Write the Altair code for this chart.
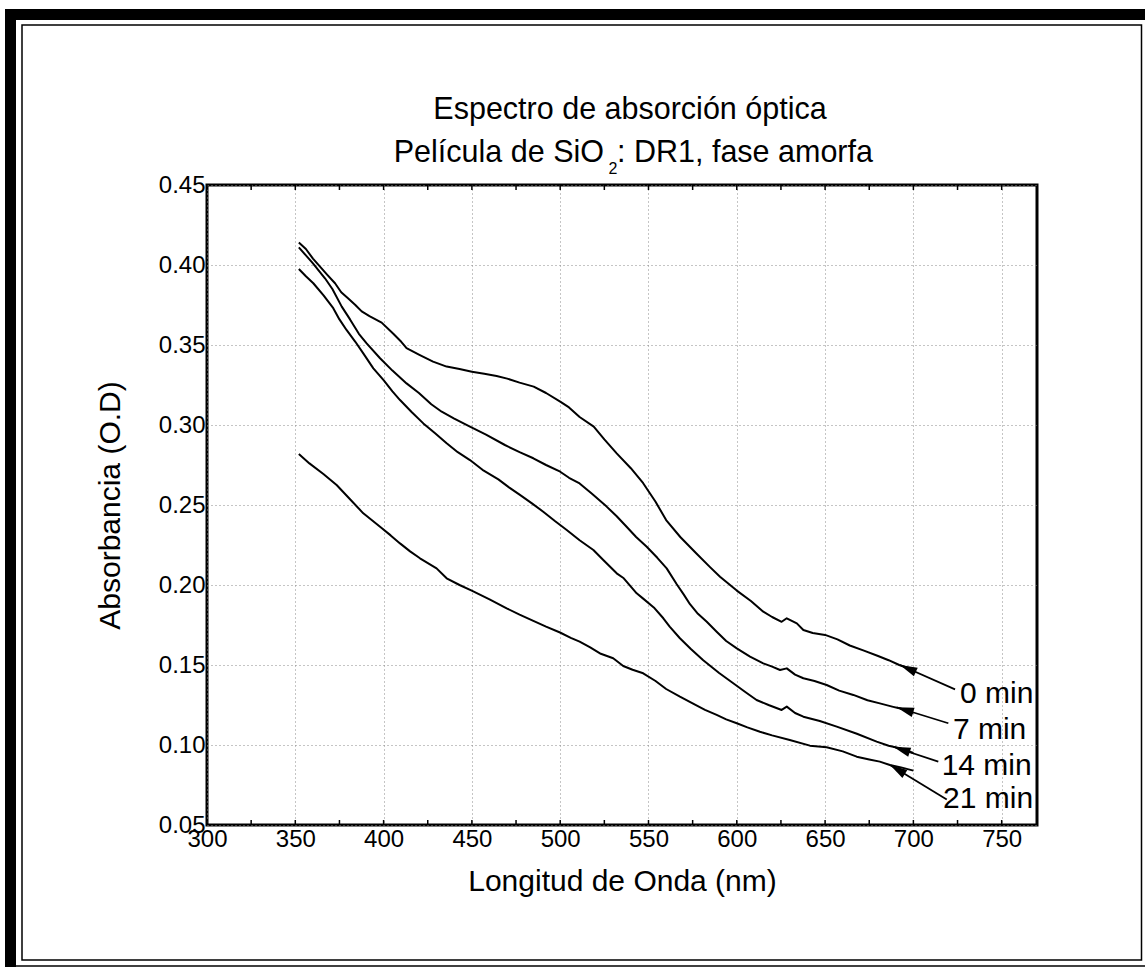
import math
import altair as alt
import pandas as pd

FONT = "Liberation Sans"

# ---------------- data ----------------
series_names = ["0 min", "7 min", "14 min", "21 min"]

nm_0 = [352, 356, 360, 364, 368, 372.5, 376, 380, 384, 387.6, 392, 398.9, 405.5, 410, 413,
        420, 428, 435.7, 443, 450, 457, 464, 470, 477, 485, 492, 500, 505, 511, 519, 525,
        532, 540, 547, 554, 560, 568, 577, 585, 590.5, 600, 608, 615, 620, 625.4, 628.3,
        634, 637.7, 643, 650, 657, 664, 672, 680, 686, 692, 700]
abs_0 = [0.414, 0.410, 0.404, 0.399, 0.394, 0.3886, 0.383, 0.379, 0.375, 0.371, 0.368, 0.364,
         0.357, 0.352, 0.348, 0.344, 0.3396, 0.3365, 0.335, 0.3333, 0.332, 0.3306, 0.329,
         0.3265, 0.324, 0.320, 0.3146, 0.311, 0.305, 0.299, 0.291, 0.2823, 0.273, 0.2636,
         0.252, 0.2406, 0.230, 0.2198, 0.211, 0.2052, 0.1965, 0.190, 0.1833, 0.180, 0.177,
         0.1792, 0.176, 0.1719, 0.170, 0.1688, 0.166, 0.1622, 0.159, 0.1556, 0.153, 0.150, 0.147]

nm_7 = [352, 356, 360, 366.8, 371, 376.3, 381, 386, 390.4, 398, 405, 413, 420, 427, 432.9,
        440, 448.9, 458, 468.7, 477, 484.8, 492, 500, 505, 511, 518, 526.3, 532, 537.6, 543,
        549, 555, 560.3, 566, 570, 573.5, 578, 583, 588.6, 594, 600, 607.5, 615, 620, 624.5,
        628.3, 633, 637.7, 644, 650.9, 658, 666, 674, 681, 688, 694.3, 700]
abs_7 = [0.411, 0.406, 0.401, 0.3917, 0.385, 0.374, 0.366, 0.357, 0.351, 0.3417, 0.334, 0.326,
         0.320, 0.313, 0.3083, 0.304, 0.299, 0.294, 0.2875, 0.283, 0.2792, 0.275, 0.2708,
         0.267, 0.2635, 0.257, 0.249, 0.243, 0.2364, 0.230, 0.2239, 0.217, 0.2104, 0.2005,
         0.194, 0.188, 0.182, 0.177, 0.1708, 0.165, 0.1604, 0.1552, 0.151, 0.149, 0.1469,
         0.1479, 0.144, 0.1417, 0.140, 0.1375, 0.134, 0.1313, 0.128, 0.126, 0.124, 0.1223, 0.120]

nm_14 = [352, 356, 360.2, 366, 371.5, 375, 379, 384, 388.5, 394.2, 400, 405, 409.3, 416, 422.5,
         429, 435.7, 442, 448.9, 456, 465, 471, 477.2, 484, 490.4, 497, 503.7, 511, 518.8,
         524.4, 532, 536, 543.3, 547, 553, 558.4, 562, 567.8, 574, 581, 590, 598, 605, 611.2,
         618, 625.4, 628.3, 633, 637.7, 647, 656.6, 668, 679.2, 686, 692.4, 700]
abs_14 = [0.3975, 0.393, 0.3886, 0.381, 0.373, 0.366, 0.3594, 0.352, 0.3448, 0.3354, 0.328,
          0.321, 0.3156, 0.308, 0.301, 0.295, 0.2886, 0.283, 0.2781, 0.272, 0.266, 0.261,
          0.2563, 0.251, 0.2458, 0.240, 0.2344, 0.228, 0.2219, 0.2156, 0.2073, 0.2042, 0.1948,
          0.1915, 0.186, 0.1792, 0.174, 0.1667, 0.160, 0.153, 0.145, 0.1386, 0.133, 0.1281,
          0.125, 0.1219, 0.124, 0.120, 0.1177, 0.115, 0.1115, 0.107, 0.1021, 0.0995, 0.098, 0.095]

nm_21 = [352, 358, 365.9, 373.4, 381, 388.5, 398, 404, 409.3, 415, 420.6, 430, 435.7, 443,
         449.9, 460, 469.7, 477, 484.8, 492, 499.9, 506, 511, 517, 523, 530, 535.7, 541, 547,
         554, 560, 567.8, 575, 582, 588.6, 594, 600, 606, 613.1, 620, 630, 641.4, 650.9, 660,
         667.9, 675, 681, 686.7, 693, 700]
abs_21 = [0.2819, 0.276, 0.2694, 0.2625, 0.2536, 0.2448, 0.2364, 0.231, 0.226, 0.221, 0.2167,
          0.2104, 0.2042, 0.200, 0.1965, 0.191, 0.1854, 0.1815, 0.1776, 0.174, 0.1703, 0.167,
          0.1646, 0.161, 0.157, 0.1542, 0.1494, 0.147, 0.1448, 0.140, 0.135, 0.1302, 0.126,
          0.122, 0.1188, 0.116, 0.1136, 0.111, 0.1083, 0.106, 0.1031, 0.0996, 0.0986, 0.096,
          0.0927, 0.091, 0.0896, 0.0875, 0.086, 0.084]

# annotation labels and arrows
label_nm = [726.4, 722.4, 716.0, 716.8]
label_abs = [0.126, 0.1036, 0.0813, 0.0604]
arrow_from_nm = [723.6, 719.8, 714.1, 718.9]
arrow_from_abs = [0.1348, 0.1136, 0.0896, 0.066]
arrow_to_nm = [692.4, 690.5, 688.6, 686.8]
arrow_to_abs = [0.150, 0.1236, 0.0989, 0.0875]

x_major = [300, 350, 400, 450, 500, 550, 600, 650, 700, 750]
x_minor = [300, 325, 350, 375, 400, 425, 450, 475, 500, 525, 550, 575, 600, 625, 650, 675,
           700, 725, 750]
y_major = [0.05, 0.10, 0.15, 0.20, 0.25, 0.30, 0.35, 0.40, 0.45]

X_DOMAIN = [300, 770]
Y_DOMAIN = [0.05, 0.45]

# ---------------- layout ----------------
W, H = 830, 640
PX_NM = W / (X_DOMAIN[1] - X_DOMAIN[0])
PX_ABS = H / (Y_DOMAIN[1] - Y_DOMAIN[0])

rows = []
for name, xs_, ys_ in zip(series_names, [nm_0, nm_7, nm_14, nm_21],
                          [abs_0, abs_7, abs_14, abs_21]):
    assert len(xs_) == len(ys_)
    for a, b in zip(xs_, ys_):
        rows.append({"nm": a, "abs": b, "serie": name})
curves = pd.DataFrame(rows)

ann_rows = []
for i, name in enumerate(series_names):
    dx = (arrow_to_nm[i] - arrow_from_nm[i]) * PX_NM
    dy = -(arrow_to_abs[i] - arrow_from_abs[i]) * PX_ABS
    ang = math.degrees(math.atan2(dx, -dy)) % 360
    ann_rows.append({"serie": name, "lx": label_nm[i], "ly": label_abs[i],
                     "nm": arrow_from_nm[i], "abs": arrow_from_abs[i],
                     "nm2": arrow_to_nm[i], "abs2": arrow_to_abs[i], "ang": ang})
ann = pd.DataFrame(ann_rows)
minor = pd.DataFrame({"nm": x_minor})

xs = alt.Scale(domain=X_DOMAIN, nice=False, zero=False)
ys = alt.Scale(domain=Y_DOMAIN, nice=False, zero=False)

x_axis = alt.Axis(values=x_major, title="Longitud de Onda (nm)", labelFontSize=24,
                  titleFontSize=30, titleFontWeight="normal", labelColor="black",
                  titleColor="black", tickSize=0, domain=False, labelPadding=2,
                  labelFlush=False, labelOverlap=False, grid=True, gridDash=[1, 3],
                  gridColor="#8a8a8a", gridWidth=1, titleX=W / 2, titleY=65,
                  titleBaseline="alphabetic", titleAlign="center", labelFont=FONT,
                  titleFont=FONT)
y_axis = alt.Axis(values=y_major, format=".2f", title="Absorbancia (O.D)", labelFontSize=24,
                  titleFontSize=30, titleFontWeight="normal", labelColor="black",
                  titleColor="black", tickSize=0, domain=False, labelPadding=2,
                  labelFlush=False, labelOverlap=False, grid=True, gridDash=[1, 3],
                  gridColor="#8a8a8a", gridWidth=1, titleX=-88, titleY=H / 2,
                  titleAngle=270, titleBaseline="alphabetic", titleAlign="center",
                  labelFont=FONT, titleFont=FONT)

lines = alt.Chart(curves).mark_line(color="black", strokeWidth=2, strokeJoin="round").encode(
    x=alt.X("nm:Q", scale=xs, axis=x_axis),
    y=alt.Y("abs:Q", scale=ys, axis=y_axis),
    detail="serie:N",
)

top_ticks = alt.Chart(minor).mark_rule(color="black", strokeWidth=1.5).encode(
    x=alt.X("nm:Q", scale=xs, axis=x_axis), y=alt.value(0), y2=alt.value(5))
bot_ticks = alt.Chart(minor).mark_rule(color="black", strokeWidth=1.5).encode(
    x=alt.X("nm:Q", scale=xs, axis=x_axis), y=alt.value(H - 5), y2=alt.value(H))

arrow_lines = alt.Chart(ann).mark_rule(color="black", strokeWidth=1.8).encode(
    x=alt.X("nm:Q", scale=xs, axis=x_axis), y=alt.Y("abs:Q", scale=ys, axis=y_axis),
    x2="nm2:Q", y2="abs2:Q")
arrow_heads = alt.Chart(ann).mark_point(shape="M0,0L0.55,2L-0.55,2Z", filled=True, size=300,
                                        color="black", opacity=1, strokeWidth=0).encode(
    x=alt.X("nm2:Q", scale=xs, axis=x_axis), y=alt.Y("abs2:Q", scale=ys, axis=y_axis),
    angle=alt.Angle("ang:Q", scale=None))
labels = alt.Chart(ann).mark_text(font=FONT, fontSize=30, align="left",
                                  baseline="alphabetic", color="black").encode(
    x=alt.X("lx:Q", scale=xs, axis=x_axis), y=alt.Y("ly:Q", scale=ys, axis=y_axis),
    text="serie:N")

one = alt.Data(values=[{}])


def txt(s, x, y, size=30, align="center"):
    return alt.Chart(one).mark_text(text=s, font=FONT, fontSize=size, align=align,
                                    baseline="alphabetic", color="black").encode(
        x=alt.value(x), y=alt.value(y))


title1 = txt("Espectro de absorción óptica", 423, -66, size=30.5)
title2a = txt("Película de SiO", 397, -23, size=30.5, align="right")
title2b = txt("2", 401.5, -11, size=16, align="left")
title2c = txt(": DR1, fase amorfa", 410, -23, size=30.5, align="left")

# page frame (decoration)
frame_top = alt.Chart(one).mark_rect(color="black").encode(
    x=alt.value(-202), x2=alt.value(938), y=alt.value(-176), y2=alt.value(-165))
frame_left = alt.Chart(one).mark_rect(color="black").encode(
    x=alt.value(-202), x2=alt.value(-191), y=alt.value(-176), y2=alt.value(782))
frame_inner = alt.Chart(one).mark_rect(fillOpacity=0, stroke="black", strokeWidth=1.5).encode(
    x=alt.value(-185), x2=alt.value(934.5), y=alt.value(-160), y2=alt.value(775))
frame_bottom = alt.Chart(one).mark_rule(color="black", strokeWidth=1.5).encode(
    x=alt.value(-191), x2=alt.value(938), y=alt.value(781))

chart = alt.layer(
    lines, top_ticks, bot_ticks, arrow_lines, arrow_heads, labels,
    title1, title2a, title2b, title2c,
    frame_top, frame_left, frame_inner, frame_bottom,
).properties(
    width=W, height=H,
    padding={"left": 207, "top": 185, "right": 108, "bottom": 142},
    autosize=alt.AutoSizeParams(type="none"),
    background="white",
).configure_view(stroke="black", strokeWidth=3)

chart.save("out.html", embed_options={"renderer": "svg", "actions": False})
